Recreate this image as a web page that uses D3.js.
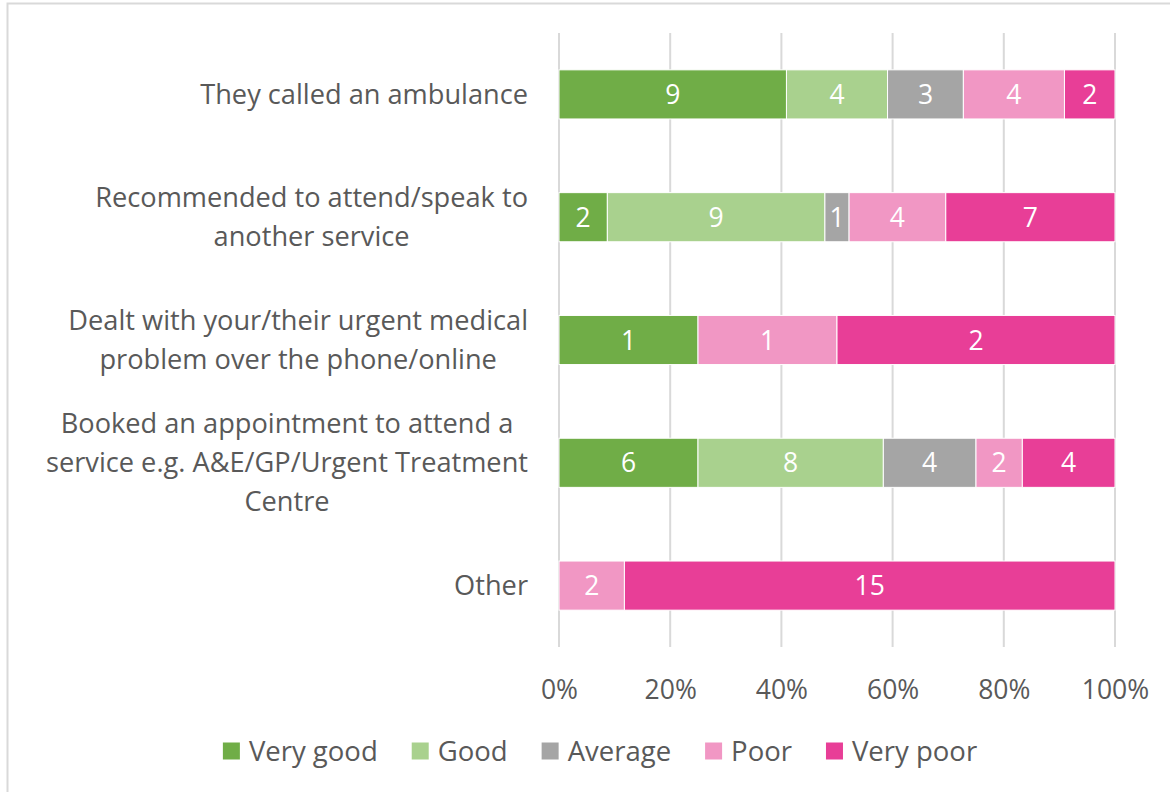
<!DOCTYPE html>
<html><head><meta charset="utf-8">
<script src="https://cdn.jsdelivr.net/npm/d3@7"></script>
<style>body{margin:0;background:#fff}svg{display:block}text{font-family:"Open Sans",sans-serif}</style>
</head><body>
<svg id="c" width="1170" height="792"></svg>
<script>
const categories = [
  ["They called an ambulance"],
  ["Recommended to attend/speak to", "another service"],
  ["Dealt with your/their urgent medical", "problem over the phone/online"],
  ["Booked an appointment to attend a", "service e.g. A&E/GP/Urgent Treatment", "Centre"],
  ["Other"]
];
const seriesNames = ["Very good", "Good", "Average", "Poor", "Very poor"];
const veryGood = [9, 2, 1, 6, 0];
const good     = [4, 9, 0, 8, 0];
const average  = [3, 1, 0, 4, 0];
const poor     = [4, 4, 1, 2, 2];
const veryPoor = [2, 7, 2, 4, 15];
const tickValues = [0, 0.2, 0.4, 0.6, 0.8, 1.0];
const colors = ["#70AD47", "#A9D18E", "#A5A5A5", "#F197C4", "#E83E97"];

const series = [veryGood, good, average, poor, veryPoor];
const svg = d3.select("#c");
const FS = 27.2, TXT = "#595959";

// chart border
svg.append("rect").attr("x", 7.5).attr("y", 3.5).attr("width", 1200).attr("height", 900)
  .attr("fill", "none").attr("stroke", "#d9d9d9").attr("stroke-width", 2);

const x = d3.scaleLinear().domain([0, 1]).range([559, 1115]);
const y = d3.scaleBand().domain(d3.range(categories.length)).range([33, 647])
  .paddingInner(0.6).paddingOuter(0.3);

// gridlines
svg.append("g").selectAll("line").data(tickValues).join("line")
  .attr("x1", d => x(d)).attr("x2", d => x(d)).attr("y1", 33).attr("y2", 647)
  .attr("stroke", "#d9d9d9").attr("stroke-width", 2);

// axis labels
const ax = d3.axisBottom(x).tickValues(tickValues).tickFormat(d3.format(".0%")).tickSize(0).tickPadding(0);
const axg = svg.append("g").attr("transform", "translate(0,680)").call(ax);
axg.select(".domain").remove();
axg.selectAll("text").attr("font-size", 26.5).attr("fill", TXT).attr("font-family", "Open Sans");

// stack
const rows = categories.map((c, i) => {
  const vals = series.map(s => s[i]);
  const tot = d3.sum(vals);
  let acc = 0;
  return vals.map((v, k) => { const r = {i, k, v, x0: acc / tot, x1: (acc + v) / tot}; acc += v; return r; });
});
const segs = rows.flat().filter(d => d.v > 0);

svg.append("g").selectAll("rect").data(segs).join("rect")
  .attr("x", d => x(d.x0)).attr("width", d => x(d.x1) - x(d.x0))
  .attr("y", d => y(d.i)).attr("height", y.bandwidth())
  .attr("fill", d => colors[d.k]).attr("stroke", "#fff").attr("stroke-width", 1);

svg.append("g").selectAll("text").data(segs).join("text")
  .attr("x", d => (x(d.x0) + x(d.x1)) / 2).attr("y", d => y(d.i) + y.bandwidth() / 2)
  .attr("dy", "0.36em").attr("text-anchor", "middle").attr("font-size", 26.5)
  .attr("fill", "#fff").text(d => d.v);

// category labels: block right-aligned at 528, lines centred within block
const lh = 39, right = 528;
const cg = svg.append("g");
categories.forEach((lines, i) => {
  const cy = y(i) + y.bandwidth() / 2;
  const t = cg.append("text").attr("text-anchor", "middle").attr("font-size", FS).attr("fill", TXT);
  const spans = lines.map((l, j) =>
    t.append("tspan").attr("y", cy + (j - (lines.length - 1) / 2) * lh).attr("dy", "0.35em").text(l));
  const maxW = d3.max(spans, s => s.node().getComputedTextLength());
  spans.forEach(s => s.attr("x", right - maxW / 2));
});

// legend
const lg = svg.append("g");
const items = lg.selectAll("g").data(seriesNames).join("g");
items.append("rect").attr("width", 17).attr("height", 17).attr("y", -8.5).attr("fill", (d, i) => colors[i]);
items.append("text").attr("x", 26).attr("dy", "0.35em").attr("font-size", 27.5).attr("fill", TXT).text(d => d);
let lx = 0; const gap = 34;
items.each(function() { const w = this.getBBox().width; d3.select(this).attr("transform", `translate(${lx},751)`); lx += w + gap; });
const total = lx - gap;
lg.attr("transform", `translate(${600 - total / 2},0)`);
</script>
</body></html>
